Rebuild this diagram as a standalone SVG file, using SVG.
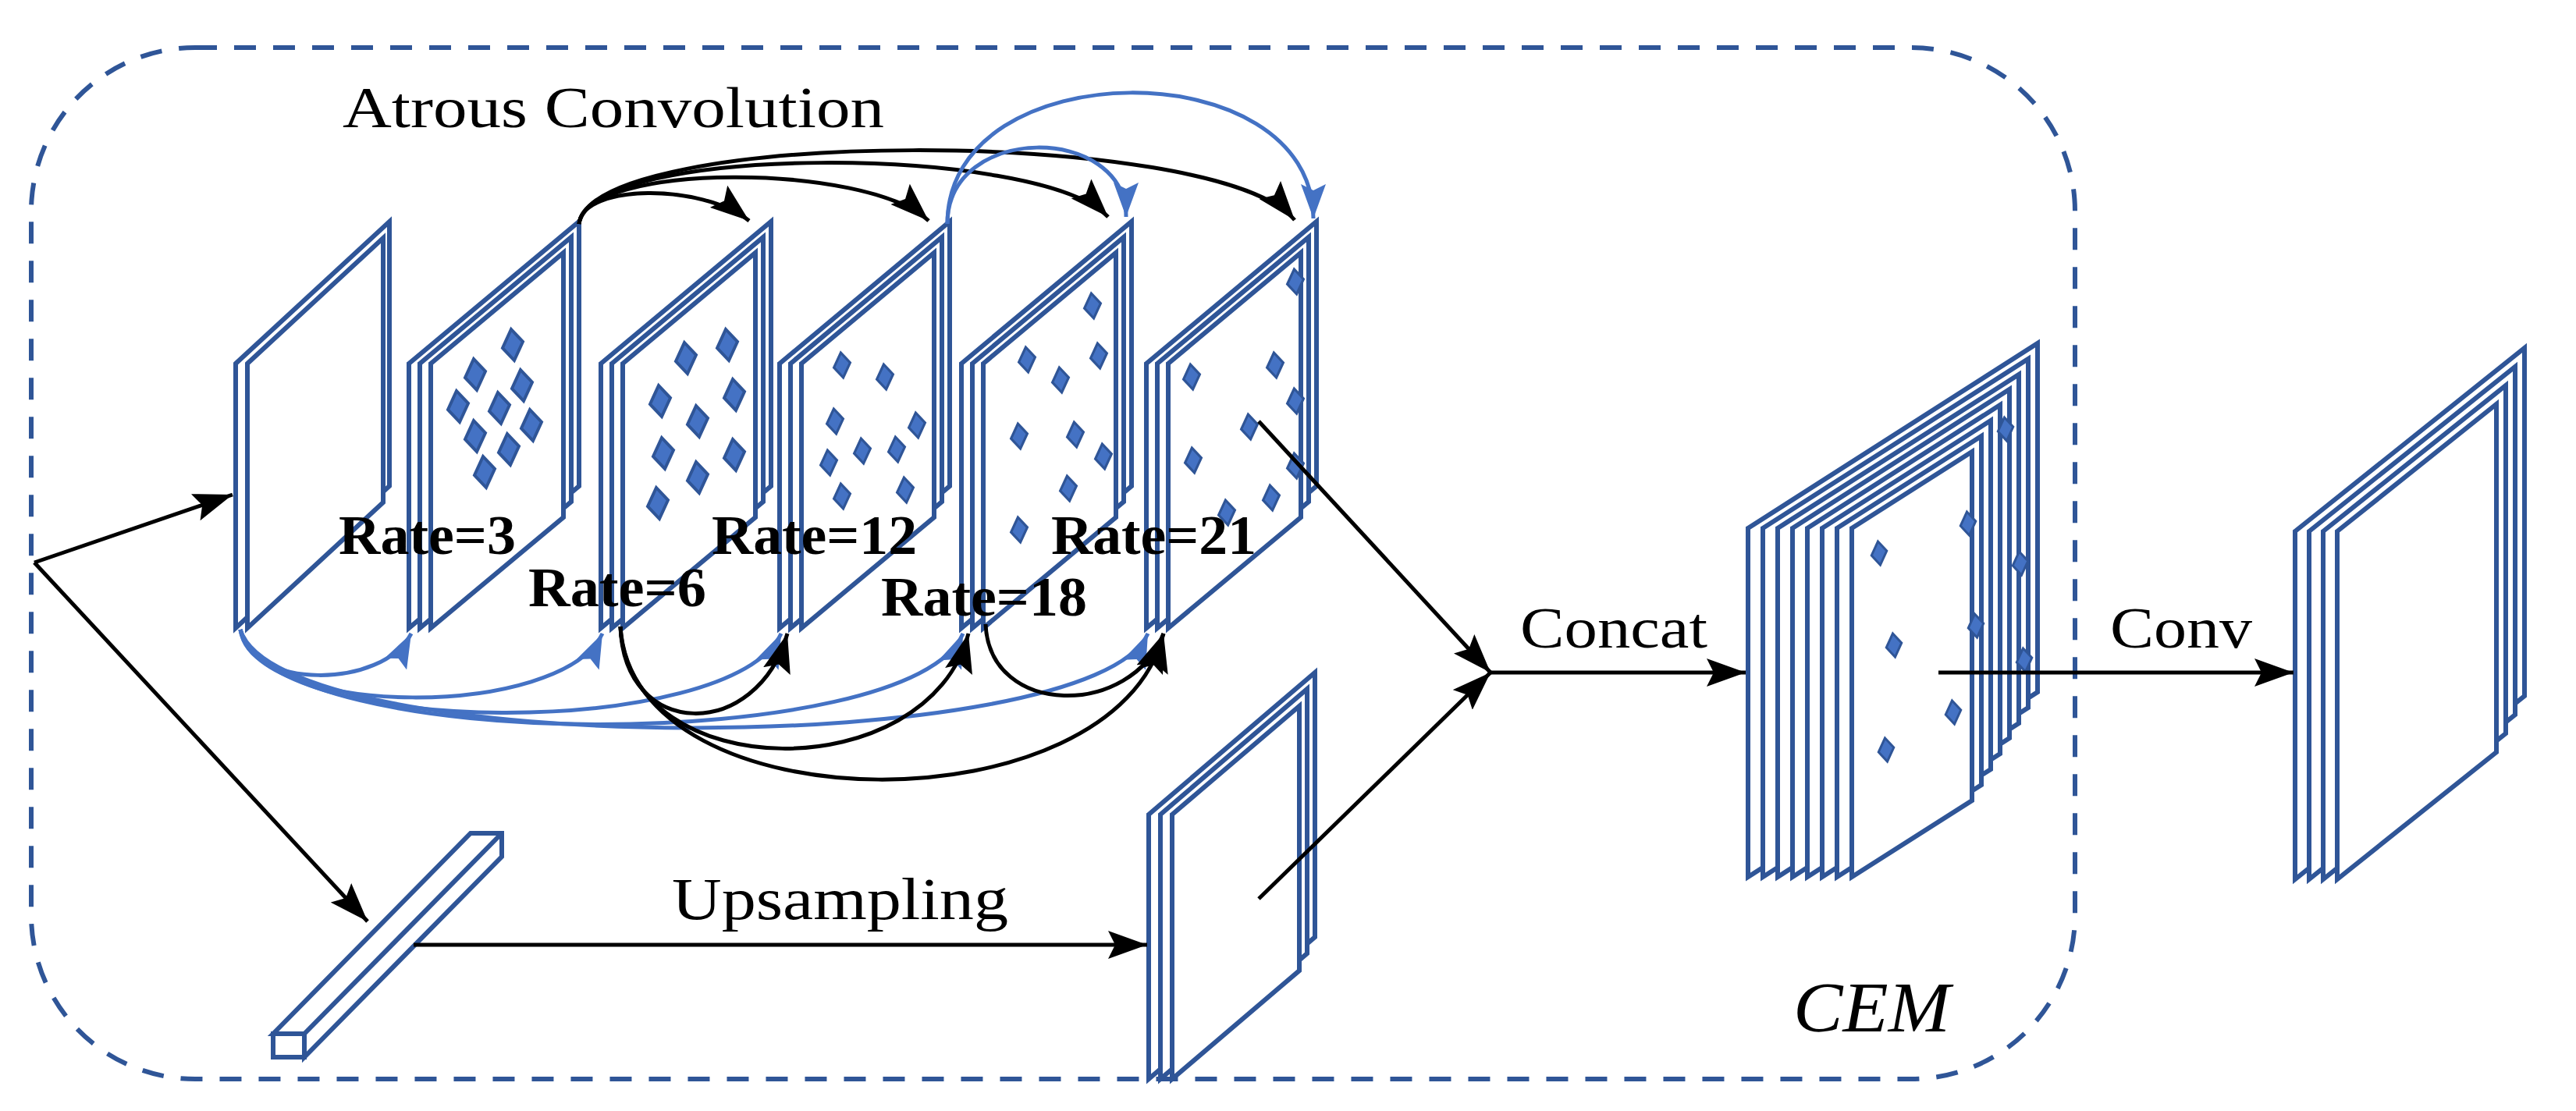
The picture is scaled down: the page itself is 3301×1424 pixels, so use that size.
<svg xmlns="http://www.w3.org/2000/svg" width="3301" height="1424" viewBox="0 0 3301 1424">
<defs>
<style>
.fr{fill:#fff;stroke:#2F5597;stroke-width:6;stroke-linejoin:miter}
.bk{fill:none;stroke:#000;stroke-width:5}
.bl{fill:none;stroke:#4472C4;stroke-width:5}
.t{font-family:"Liberation Serif","Times New Roman",serif;fill:#000}
.rb{font-weight:bold;font-size:72px}
.dm{fill:#4472C4;stroke:#2F5597;stroke-width:4}
</style>
<marker id="ak" markerUnits="userSpaceOnUse" markerWidth="52" markerHeight="36" refX="50" refY="18" orient="auto"><path d="M0,0 L50,18 L0,36 L9,18 Z" fill="#000"/></marker>
<marker id="ab" markerUnits="userSpaceOnUse" markerWidth="46" markerHeight="32" refX="44" refY="16" orient="auto"><path d="M0,0 L44,16 L0,32 L8,16 Z" fill="#4472C4"/></marker>
<polygon id="d" points="-2,-20 13,-4 2,20 -13,4" class="dm"/>
</defs>
<rect x="40" y="61" width="2619" height="1322" rx="210" ry="210" fill="none" stroke="#2F5597" stroke-width="6" stroke-dasharray="28 22"/>

<g id="plane1">
<path class="fr" d="M302 466 L499 284 L499 623 L302 805 Z"/>
<path class="fr" d="M317 466 L491 305 L491 644 L317 805 Z"/>
</g>
<g id="plane-rate3">
<path class="fr" d="M524 466 L742 284 L742 623 L524 805 Z"/>
<path class="fr" d="M538 466 L732 304 L732 643 L538 805 Z"/>
<path class="fr" d="M552 466 L722 324 L722 663 L552 805 Z"/>
<use href="#d" x="657" y="442"/><use href="#d" x="609" y="480"/><use href="#d" x="669" y="494"/><use href="#d" x="587" y="521"/><use href="#d" x="640" y="523"/><use href="#d" x="681" y="545"/><use href="#d" x="609" y="559"/><use href="#d" x="652" y="576"/><use href="#d" x="621" y="605"/>
</g>
<g id="plane-rate6">
<path class="fr" d="M770 466 L988 284 L988 623 L770 805 Z"/>
<path class="fr" d="M784 466 L978 304 L978 643 L784 805 Z"/>
<path class="fr" d="M798 466 L968 324 L968 663 L798 805 Z"/>
<use href="#d" x="879" y="459"/><use href="#d" x="932" y="442"/><use href="#d" x="846" y="514"/><use href="#d" x="941" y="506"/><use href="#d" x="894" y="540"/><use href="#d" x="850" y="581"/><use href="#d" x="941" y="583"/><use href="#d" x="894" y="612"/><use href="#d" x="843" y="645"/>
</g>
<g id="plane-rate12">
<path class="fr" d="M999 466 L1217 284 L1217 623 L999 805 Z"/>
<path class="fr" d="M1013 466 L1207 304 L1207 643 L1013 805 Z"/>
<path class="fr" d="M1027 466 L1197 324 L1197 663 L1027 805 Z"/>
<use href="#d" transform="translate(1079,468) scale(0.8)"/><use href="#d" transform="translate(1134,483) scale(0.8)"/><use href="#d" transform="translate(1070,540) scale(0.8)"/><use href="#d" transform="translate(1175,545) scale(0.8)"/><use href="#d" transform="translate(1062,593) scale(0.8)"/><use href="#d" transform="translate(1105,578) scale(0.8)"/><use href="#d" transform="translate(1149,576) scale(0.8)"/><use href="#d" transform="translate(1079,636) scale(0.8)"/><use href="#d" transform="translate(1160,628) scale(0.8)"/>
</g>
<g id="plane-rate18">
<path class="fr" d="M1232 466 L1450 284 L1450 623 L1232 805 Z"/>
<path class="fr" d="M1246 466 L1440 304 L1440 643 L1246 805 Z"/>
<path class="fr" d="M1260 466 L1430 324 L1430 663 L1260 805 Z"/>
<use href="#d" transform="translate(1400,392) scale(0.8)"/><use href="#d" transform="translate(1316,461) scale(0.8)"/><use href="#d" transform="translate(1359,487) scale(0.8)"/><use href="#d" transform="translate(1408,456) scale(0.8)"/><use href="#d" transform="translate(1306,559) scale(0.8)"/><use href="#d" transform="translate(1378,557) scale(0.8)"/><use href="#d" transform="translate(1414,585) scale(0.8)"/><use href="#d" transform="translate(1369,626) scale(0.8)"/><use href="#d" transform="translate(1306,679) scale(0.8)"/>
</g>
<g id="plane-rate21">
<path class="fr" d="M1469 466 L1687 284 L1687 623 L1469 805 Z"/>
<path class="fr" d="M1483 466 L1677 304 L1677 643 L1483 805 Z"/>
<path class="fr" d="M1497 466 L1667 324 L1667 663 L1497 805 Z"/>
<use href="#d" transform="translate(1660,361) scale(0.8)"/><use href="#d" transform="translate(1527,483) scale(0.8)"/><use href="#d" transform="translate(1634,468) scale(0.8)"/><use href="#d" transform="translate(1660,514) scale(0.8)"/><use href="#d" transform="translate(1601,547) scale(0.8)"/><use href="#d" transform="translate(1529,590) scale(0.8)"/><use href="#d" transform="translate(1660,597) scale(0.8)"/><use href="#d" transform="translate(1572,657) scale(0.8)"/><use href="#d" transform="translate(1629,638) scale(0.8)"/>
</g>
<g id="pool-bar">
<path class="fr" d="M350 1325 L603 1068 L643 1068 L643 1098 L390 1355 L390 1325 Z"/>
<path class="fr" d="M390 1325 L643 1068"/>
<rect class="fr" x="350" y="1325" width="40" height="30"/>
</g>
<g id="upsampled">
<path class="fr" d="M1472 1044 L1685 862 L1685 1201 L1472 1383 Z"/>
<path class="fr" d="M1487 1044 L1675 883 L1675 1222 L1487 1383 Z"/>
<path class="fr" d="M1502 1044 L1665 905 L1665 1244 L1502 1383 Z"/>
</g>
<g id="concat-block">
<path class="fr" d="M2240 677 L2611 440 L2611 887 L2240 1124 Z"/>
<path class="fr" d="M2259 677 L2599 460 L2599 907 L2259 1124 Z"/>
<path class="fr" d="M2278 677 L2587 480 L2587 927 L2278 1124 Z"/>
<path class="fr" d="M2297 677 L2575 499 L2575 946 L2297 1124 Z"/>
<path class="fr" d="M2316 677 L2563 519 L2563 966 L2316 1124 Z"/>
<path class="fr" d="M2335 677 L2551 539 L2551 986 L2335 1124 Z"/>
<path class="fr" d="M2354 677 L2539 559 L2539 1006 L2354 1124 Z"/>
<path class="fr" d="M2373 677 L2527 579 L2527 1026 L2373 1124 Z"/>
<use href="#d" transform="translate(2408,709) scale(0.75)"/><use href="#d" transform="translate(2427,827) scale(0.75)"/><use href="#d" transform="translate(2570,550) scale(0.75)"/><use href="#d" transform="translate(2522,671) scale(0.75)"/><use href="#d" transform="translate(2589,722) scale(0.75)"/><use href="#d" transform="translate(2532,802) scale(0.75)"/><use href="#d" transform="translate(2594,846) scale(0.75)"/><use href="#d" transform="translate(2503,913) scale(0.75)"/><use href="#d" transform="translate(2417,961) scale(0.75)"/>
</g>
<g id="output-block">
<path class="fr" d="M2941 681 L3235 446 L3235 892 L2941 1127 Z"/>
<path class="fr" d="M2959 681 L3223 470 L3223 916 L2959 1127 Z"/>
<path class="fr" d="M2977 681 L3211 494 L3211 940 L2977 1127 Z"/>
<path class="fr" d="M2995 681 L3199 518 L3199 964 L2995 1127 Z"/>
</g>

<g id="connectors">
<path class="bk" d="M44 721 L298 634" marker-end="url(#ak)"/>
<path class="bk" d="M44 721 L471 1181" marker-end="url(#ak)"/>
<path class="bk" d="M530 1211 L1470 1211" marker-end="url(#ak)"/>
<path class="bk" d="M1613 540 L1910 862" marker-end="url(#ak)"/>
<path class="bk" d="M1613 1152 L1910 862" marker-end="url(#ak)"/>
<path class="bk" d="M1910 862 L2237 862" marker-end="url(#ak)"/>
<path class="bk" d="M2484 862 L2939 862" marker-end="url(#ak)"/>
<path class="bk" d="M742 287 C747 235 900 235 960 283" marker-end="url(#ak)"/>
<path class="bk" d="M742 287 C750 208 1110 208 1190 283" marker-end="url(#ak)"/>
<path class="bk" d="M742 287 C755 184 1330 184 1420 278" marker-end="url(#ak)"/>
<path class="bk" d="M742 287 C760 162 1560 162 1659 282" marker-end="url(#ak)"/>
<path class="bl" d="M1214 287 C1214 158 1443 158 1443 278" marker-end="url(#ab)"/>
<path class="bl" d="M1214 287 C1214 64 1683 64 1683 280" marker-end="url(#ab)"/>
<path class="bl" d="M308 807 C320 884 490 884 527 812" marker-end="url(#ab)"/>
<path class="bl" d="M308 807 C330 922 720 922 772 812" marker-end="url(#ab)"/>
<path class="bl" d="M308 807 C340 948 940 948 1001 812" marker-end="url(#ab)"/>
<path class="bl" d="M308 807 C350 968 1170 968 1234 812" marker-end="url(#ab)"/>
<path class="bl" d="M308 807 C360 974 1400 974 1471 812" marker-end="url(#ab)"/>
<path class="bk" d="M795 803 C800 950 970 950 1009 812" marker-end="url(#ak)"/>
<path class="bk" d="M795 803 C805 1010 1190 1010 1241 812" marker-end="url(#ak)"/>
<path class="bk" d="M795 803 C810 1063 1430 1063 1491 812" marker-end="url(#ak)"/>
<path class="bk" d="M1263 800 C1268 920 1450 920 1491 812" marker-end="url(#ak)"/>
</g>

<g id="labels">
<text class="t" x="439" y="163" font-size="75" textLength="694" lengthAdjust="spacingAndGlyphs">Atrous Convolution</text>
<text class="t rb" x="434" y="710" textLength="227" lengthAdjust="spacingAndGlyphs">Rate=3</text>
<text class="t rb" x="677" y="777" textLength="228" lengthAdjust="spacingAndGlyphs">Rate=6</text>
<text class="t rb" x="912" y="710" textLength="263" lengthAdjust="spacingAndGlyphs">Rate=12</text>
<text class="t rb" x="1129" y="789" textLength="264" lengthAdjust="spacingAndGlyphs">Rate=18</text>
<text class="t rb" x="1347" y="710" textLength="263" lengthAdjust="spacingAndGlyphs">Rate=21</text>
<text class="t" x="861" y="1178" font-size="76" textLength="431" lengthAdjust="spacingAndGlyphs">Upsampling</text>
<text class="t" x="1948" y="830" font-size="74" textLength="240" lengthAdjust="spacingAndGlyphs">Concat</text>
<text class="t" x="2704" y="830" font-size="74" textLength="182" lengthAdjust="spacingAndGlyphs">Conv</text>
<text class="t" x="2298" y="1322" font-size="92" font-style="italic" textLength="201" lengthAdjust="spacingAndGlyphs">CEM</text>
</g>
</svg>
